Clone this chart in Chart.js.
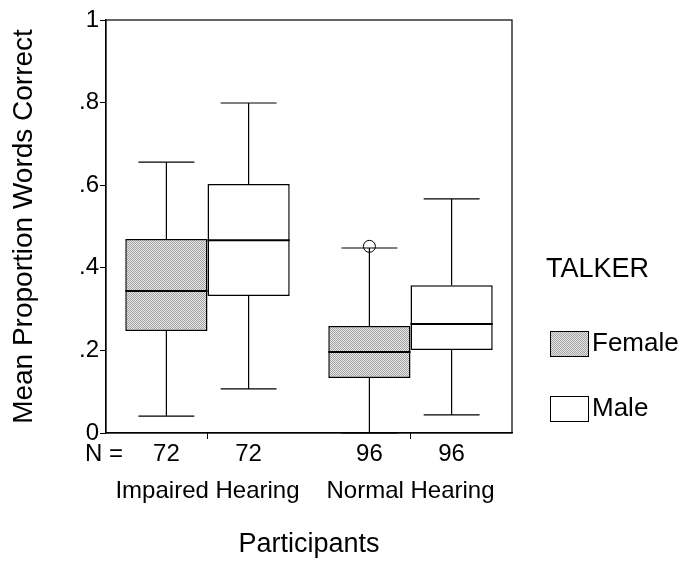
<!DOCTYPE html>
<html lang="en">
  <head>
    <meta charset="UTF-8" />
    <title>Mean Proportion Words Correct by Participants</title>
    <script src="https://cdn.jsdelivr.net/npm/chart.js@4/dist/chart.umd.min.js"></script>
    <style>
      html, body { margin: 0; padding: 0; background: #fff; }
      #wrap { width: 683px; height: 562px; }
    </style>
  </head>
  <body>
    <div id="wrap"><canvas id="boxChart" width="683" height="562"></canvas></div>
    <script>
      // data
      const categories = ["Impaired Hearing", "Normal Hearing"];
      const talkers = ["Female", "Male"];
      const femaleN = [72, 96];
      const maleN = [72, 96];
      const femaleMin = [0.041, 0.0];
      const femaleQ1 = [0.247, 0.133];
      const femaleMedian = [0.344, 0.196];
      const femaleQ3 = [0.470, 0.259];
      const femaleMax = [0.656, 0.448];
      const femaleOutliers = [[], [0.452]];
      const maleMin = [0.107, 0.044];
      const maleQ1 = [0.332, 0.201];
      const maleMedian = [0.467, 0.264];
      const maleQ3 = [0.603, 0.358];
      const maleMax = [0.799, 0.567];
      const maleOutliers = [[], []];
      const yTicks = [0, 0.2, 0.4, 0.6, 0.8, 1];

      const FONT = '"Liberation Sans", Arial, Helvetica, sans-serif';

      // grey stipple like the scanned SPSS fill
      function makeStipple() {
        var c = document.createElement("canvas");
        c.width = 2;
        c.height = 2;
        var g = c.getContext("2d");
        g.fillStyle = "#e6e6e6";
        g.fillRect(0, 0, 2, 2);
        g.fillStyle = "#a4a4a4";
        g.fillRect(0, 0, 1, 1);
        g.fillRect(1, 1, 1, 1);
        return g.createPattern(c, "repeat");
      }
      const stipple = makeStipple();

      const stats = [
        { min: femaleMin, q1: femaleQ1, med: femaleMedian, q3: femaleQ3, max: femaleMax, out: femaleOutliers, n: femaleN },
        { min: maleMin, q1: maleQ1, med: maleMedian, q3: maleQ3, max: maleMax, out: maleOutliers, n: maleN }
      ];

      // whiskers, medians, outliers, frame, N row and legend
      const boxDetails = {
        id: "boxDetails",
        afterDatasetsDraw(chart) {
          const ctx = chart.ctx;
          const y = chart.scales.y;
          const area = chart.chartArea;
          ctx.save();
          ctx.strokeStyle = "#000";
          stats.forEach(function(s, di) {
            const meta = chart.getDatasetMeta(di);
            meta.data.forEach(function(bar, i) {
              const x = bar.x;
              const w = bar.width;
              const cap = w * 0.34;
              const yMin = y.getPixelForValue(s.min[i]);
              const yQ1 = y.getPixelForValue(s.q1[i]);
              const yMed = y.getPixelForValue(s.med[i]);
              const yQ3 = y.getPixelForValue(s.q3[i]);
              const yMax = y.getPixelForValue(s.max[i]);
              ctx.lineWidth = 1.2;
              ctx.beginPath();
              ctx.moveTo(x, yQ3);
              ctx.lineTo(x, yMax);
              ctx.moveTo(x - cap, yMax);
              ctx.lineTo(x + cap, yMax);
              ctx.moveTo(x, yQ1);
              ctx.lineTo(x, yMin);
              ctx.moveTo(x - cap, yMin);
              ctx.lineTo(x + cap, yMin);
              ctx.stroke();
              ctx.lineWidth = 2;
              ctx.beginPath();
              ctx.moveTo(x - w / 2, yMed);
              ctx.lineTo(x + w / 2, yMed);
              ctx.stroke();
              ctx.lineWidth = 1;
              s.out[i].forEach(function(v) {
                ctx.beginPath();
                ctx.arc(x, y.getPixelForValue(v), 6, 0, Math.PI * 2);
                ctx.stroke();
              });
            });
          });

          // frame
          ctx.lineWidth = 1.2;
          ctx.strokeRect(area.left, area.top, area.right - area.left, area.bottom - area.top);

          // N row
          ctx.fillStyle = "#000";
          ctx.font = "24px " + FONT;
          ctx.textBaseline = "middle";
          ctx.textAlign = "left";
          ctx.fillText("N =", 85, 454);
          ctx.textAlign = "center";
          stats.forEach(function(s, di) {
            chart.getDatasetMeta(di).data.forEach(function(bar, i) {
              ctx.fillText(String(s.n[i]), bar.x, 454);
            });
          });

          // legend
          const lx = area.right + 38;
          ctx.textAlign = "left";
          ctx.font = "27px " + FONT;
          ctx.fillText("TALKER", area.right + 34, 270);
          ctx.font = "26px " + FONT;
          const fills = [stipple, "#fff"];
          const rows = [344, 409];
          ctx.lineWidth = 1;
          talkers.forEach(function(t, k) {
            ctx.fillStyle = fills[k];
            ctx.fillRect(lx, rows[k] - 13, 39, 26);
            ctx.strokeRect(lx + 0.5, rows[k] - 12.5, 38, 25);
            ctx.fillStyle = "#000";
            ctx.fillText(t, lx + 42, rows[k]);
          });
          ctx.restore();
        }
      };

      new Chart(document.getElementById("boxChart"), {
        type: "bar",
        data: {
          labels: categories,
          datasets: [
            {
              label: talkers[0],
              data: femaleQ1.map((q, i) => [q, femaleQ3[i]]),
              backgroundColor: stipple,
              borderColor: "#000",
              borderWidth: 1.5,
              borderSkipped: false
            },
            {
              label: talkers[1],
              data: maleQ1.map((q, i) => [q, maleQ3[i]]),
              backgroundColor: "#fff",
              borderColor: "#000",
              borderWidth: 1.5,
              borderSkipped: false
            }
          ]
        },
        options: {
          responsive: false,
          animation: false,
          categoryPercentage: 0.81,
          barPercentage: 1,
          layout: { padding: { top: 20, right: 171, bottom: 0, left: 0 } },
          plugins: {
            legend: { display: false },
            tooltip: { enabled: false }
          },
          scales: {
            x: {
              offset: true,
              grid: {
                offset: false,
                drawOnChartArea: false,
                drawTicks: true,
                tickLength: 6,
                color: "#000"
              },
              border: { display: true, color: "#000", width: 1.2 },
              ticks: {
                color: "#000",
                padding: 38,
                font: { family: FONT, size: 24 }
              },
              title: {
                display: true,
                text: "Participants",
                color: "#000",
                padding: { top: 0, bottom: 1 },
                font: { family: FONT, size: 27 }
              },
              afterFit(scale) { scale.height = 129; }
            },
            y: {
              min: 0,
              max: 1,
              afterBuildTicks(scale) { scale.ticks = yTicks.map(v => ({ value: v })); },
              grid: {
                drawOnChartArea: false,
                drawTicks: true,
                tickLength: 6,
                color: "#000"
              },
              border: { display: true, color: "#000", width: 1.2 },
              ticks: {
                color: "#000",
                padding: 1,
                font: { family: FONT, size: 24 },
                callback: function(v) {
                  if (v === 0 || v === 1) return String(v);
                  return v.toFixed(1).replace(/^0/, "");
                }
              },
              title: {
                display: true,
                text: "Mean Proportion Words Correct",
                color: "#000",
                padding: { top: 7, bottom: 0 },
                font: { family: FONT, size: 28 }
              },
              afterFit(scale) { scale.width = 106; }
            }
          }
        },
        plugins: [boxDetails]
      });
    </script>
  </body>
</html>
